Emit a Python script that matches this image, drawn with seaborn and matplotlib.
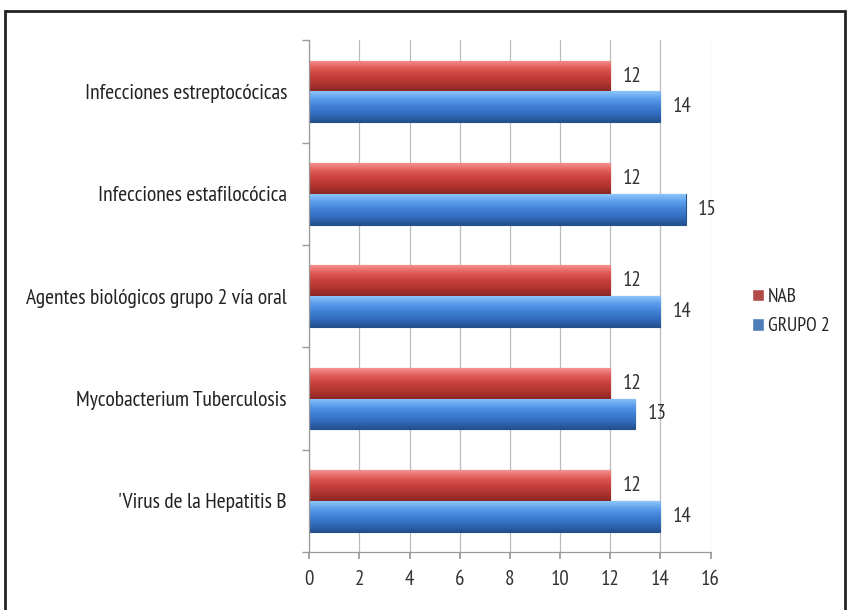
import matplotlib
matplotlib.use("Agg")
import matplotlib.pyplot as plt
from matplotlib.colors import LinearSegmentedColormap
from matplotlib.patches import Rectangle
import numpy as np
import pandas as pd
import seaborn as sns

categories = [
    "Infecciones estreptocócicas",
    "Infecciones estafilocócica",
    "Agentes biológicos grupo 2 vía oral",
    "Mycobacterium Tuberculosis",
    "'Virus de la Hepatitis B",
]
series_names = ["NAB", "GRUPO 2"]
nab_values = [12, 12, 12, 12, 12]
grupo2_values = [14, 15, 14, 13, 14]
x_ticks = [0, 2, 4, 6, 8, 10, 12, 14, 16]

colors = {"NAB": "#C43A35", "GRUPO 2": "#3C7BCB"}
edges = {"NAB": "#8E2522", "GRUPO 2": "#24528E"}
# shading top -> bottom, to imitate the bevelled bars
shades = {
    "NAB": ["#F59090", "#E05A56", "#C8403C", "#B03430", "#8A2623"],
    "GRUPO 2": ["#8CC4FA", "#5A9CEA", "#3F80D4", "#326CBC", "#244F8E"],
}

df = pd.DataFrame({
    "categoria": categories * 2,
    "serie": [series_names[0]] * len(categories) + [series_names[1]] * len(categories),
    "valor": nab_values + grupo2_values,
})

sns.set_theme(style="white")
font = ["PT Sans Narrow", "DejaVu Sans"]
plt.rcParams["font.family"] = font

fig = plt.figure(figsize=(8.47, 6.10), dpi=100)
ax = fig.add_axes([0.365, 0.095, 0.474, 0.839])

sns.barplot(data=df, y="categoria", x="valor", hue="serie", order=categories,
            hue_order=series_names, palette=colors, orient="h", width=0.6,
            dodge=True, ax=ax, legend=True)

grad = np.linspace(0, 1, 64).reshape(-1, 1)
for container, name in zip(ax.containers, series_names):
    cmap = LinearSegmentedColormap.from_list(name, shades[name])
    for patch in container:
        patch.set_edgecolor(edges[name])
        patch.set_linewidth(0.8)
        x0, y0 = patch.get_x(), patch.get_y()
        w, h = patch.get_width(), patch.get_height()
        img = ax.imshow(grad, cmap=cmap, aspect="auto", extent=[x0, x0 + w, y0 + h, y0],
                        origin="upper", zorder=patch.get_zorder() + 0.1)
        img.set_clip_path(patch)
    ax.bar_label(container, fmt="%d", padding=9, fontsize=15, color="#333333")

ax.set_xlim(0, 16)
ax.set_ylim(len(categories) - 0.5, -0.5)
ax.set_xticks(x_ticks)
ax.set_xticklabels([str(t) for t in x_ticks], fontsize=15, color="#333333")
ax.set_yticks(range(len(categories)))
ax.set_yticklabels(categories, fontsize=15.5, color="#222222")
ax.set_yticks(np.arange(-0.5, len(categories), 1.0), minor=True)
ax.tick_params(axis="y", which="major", length=0, pad=16)
ax.tick_params(axis="y", which="minor", length=5, color="#999999", direction="out", left=True)
ax.tick_params(axis="x", length=5, color="#999999", direction="out", bottom=True, pad=8)
ax.xaxis.grid(True, color="#BBBBBB", linewidth=0.9)
ax.set_axisbelow(True)
ax.set_xlabel("")
ax.set_ylabel("")
for side in ["top", "right"]:
    ax.spines[side].set_visible(False)
for side in ["left", "bottom"]:
    ax.spines[side].set_color("#999999")
    ax.spines[side].set_linewidth(0.9)

handles, labels = ax.get_legend_handles_labels()
ax.legend(handles, labels, loc="center left", bbox_to_anchor=(1.06, 0.47),
          frameon=False, fontsize=14, handlelength=0.6, handleheight=0.6,
          handletextpad=0.2, labelspacing=0.6)

fig.patches.append(Rectangle((5 / 847, -0.02), 840 / 847, 1 - 11 / 610 + 0.02,
                             transform=fig.transFigure, fill=False,
                             edgecolor="#222222", linewidth=2))

fig.savefig("out.png", dpi=100)
